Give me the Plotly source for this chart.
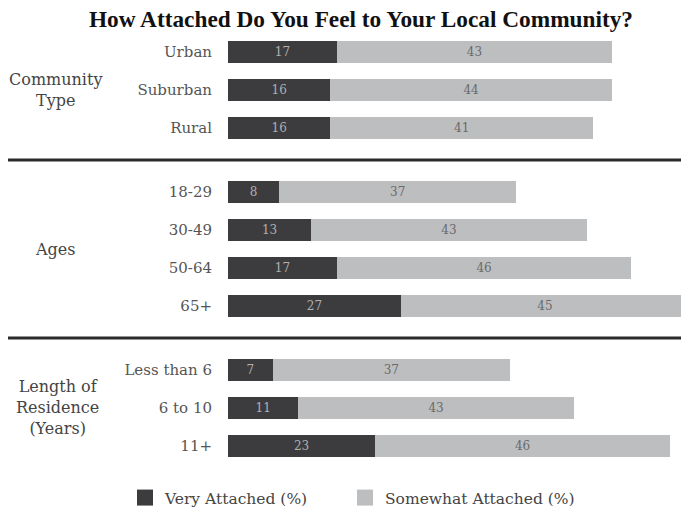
import plotly.graph_objects as go

# ---- data ----
community_labels = ["Urban", "Suburban", "Rural"]
community_very = [17, 16, 16]
community_somewhat = [43, 44, 41]

age_labels = ["18-29", "30-49", "50-64", "65+"]
age_very = [8, 13, 17, 27]
age_somewhat = [37, 43, 46, 45]

residence_labels = ["Less than 6", "6 to 10", "11+"]
residence_very = [7, 11, 23]
residence_somewhat = [37, 43, 46]

group_titles = ["Community<br>Type", "Ages", "Length of<br>Residence<br>(Years)"]
series_names = ["Very Attached (%)", "Somewhat Attached (%)"]

# ---- layout helpers (page coords -> figure coords; page body has 8px margin) ----
OFF = 8
W, H = 689 - OFF, 510 - OFF
L = 228 - OFF
DARK = "#3c3c3e"
LIGHT = "#bdbec0"
FONT = "DejaVu Serif"
TFONT = "Liberation Serif"

def py(p):
    return 1 - (p - OFF) / H

def px(p):
    return (p - OFF) / W

groups = [
    (community_labels, community_very, community_somewhat, (33, 147)),
    (age_labels, age_very, age_somewhat, (173, 325)),
    (residence_labels, residence_very, residence_somewhat, (351, 465)),
]

fig = go.Figure()
for gi, (labels, very, some, dom) in enumerate(groups):
    yname = "y" if gi == 0 else f"y{gi+1}"
    fig.add_trace(go.Bar(
        y=labels, x=very, orientation="h", name=series_names[0],
        marker=dict(color=DARK, line=dict(width=0)),
        text=[str(v) for v in very], textposition="inside", textangle=0,
        insidetextanchor="middle", constraintext="none",
        textfont=dict(color="#b0b0b0", size=12, family=FONT),
        width=0.56, xaxis="x", yaxis=yname,
        showlegend=False, hoverinfo="skip",
    ))
    fig.add_trace(go.Bar(
        y=labels, x=some, orientation="h", name=series_names[1],
        marker=dict(color=LIGHT, line=dict(width=0)),
        text=[str(v) for v in some], textposition="inside", textangle=0,
        insidetextanchor="middle", constraintext="none",
        textfont=dict(color="#6a6a6a", size=12, family=FONT),
        width=0.56, xaxis="x", yaxis=yname,
        showlegend=False, hoverinfo="skip",
    ))

# legend-only entries, one legend box each
for name, col, leg in zip(series_names, [DARK, LIGHT], ["legend", "legend2"]):
    fig.add_trace(go.Scatter(
        x=[None], y=[None], mode="markers", name=name,
        marker=dict(symbol="square", size=20, color=col),
        xaxis="x", yaxis="y", hoverinfo="skip", legend=leg, showlegend=True,
    ))

yaxis_common = dict(
    type="category", autorange="reversed", showgrid=False, zeroline=False,
    showline=False, ticks="outside", ticklen=12, tickcolor="rgba(0,0,0,0)",
    tickfont=dict(family=FONT, size=15, color="#555555"), fixedrange=True,
    automargin=False,
)

legend_common = dict(
    orientation="h", xref="paper", yref="paper",
    y=py(498), xanchor="left", yanchor="middle",
    font=dict(family=FONT, size=15.5, color="#444444"),
    itemsizing="trace", bgcolor="rgba(0,0,0,0)",
)

layout = dict(
    width=W, height=H,
    margin=dict(l=0, r=0, t=0, b=0, autoexpand=False),
    paper_bgcolor="white", plot_bgcolor="white",
    barmode="stack",
    xaxis=dict(range=[0, 72], visible=False, fixedrange=True, anchor="y3",
               automargin=False, domain=[L / W, 1]),
    title=dict(
        text="<b>How Attached Do You Feel to Your Local Community?</b>",
        font=dict(family=TFONT, size=23.3, color="#111111"),
        x=px(361), xref="container", xanchor="center",
        y=py(OFF + 3), yref="container", yanchor="top", pad=dict(t=0, b=0),
    ),
    legend=dict(legend_common, x=px(125)),
    legend2=dict(legend_common, x=px(345)),
    showlegend=True,
)
for gi, (_, _, _, dom) in enumerate(groups):
    key = "yaxis" if gi == 0 else f"yaxis{gi+1}"
    layout[key] = dict(yaxis_common, domain=[py(dom[1]), py(dom[0])], anchor="x")

fig.update_layout(**layout)

# separator lines
for ysep in (160, 338):
    fig.add_shape(type="line", xref="paper", yref="paper",
                  x0=px(8), x1=1, y0=py(ysep), y1=py(ysep),
                  line=dict(color="#2a2a2a", width=3))

# group labels
group_centers = [(55, 90), (55, 249), (57, 407)]
for title, (cx, cy) in zip(group_titles, group_centers):
    fig.add_annotation(text=title, xref="paper", yref="paper",
                       x=px(cx), y=py(cy), xanchor="center", yanchor="middle",
                       showarrow=False, align="center",
                       font=dict(family=FONT, size=16, color="#444444"))

fig.write_html("out.html")
